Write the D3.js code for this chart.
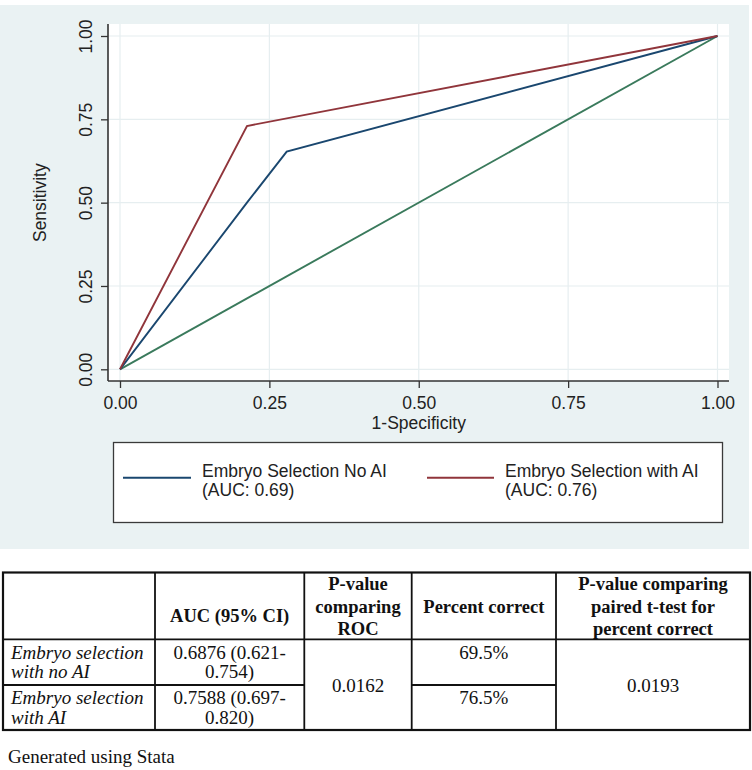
<!DOCTYPE html>
<html>
<head>
<meta charset="utf-8">
<script src="https://cdn.jsdelivr.net/npm/d3@7"></script>
<style>
  html, body { margin: 0; padding: 0; background: #ffffff; }
  svg { display: block; }
</style>
</head>
<body>
<script>
// ---------------- DATA ----------------
const seriesNames = ["Embryo Selection No AI", "Embryo Selection with AI"];
const seriesAUC = ["(AUC: 0.69)", "(AUC: 0.76)"];
const fprNoAI = [0, 0.2125, 0.279, 1];
const sensNoAI = [0, 0.500, 0.653, 1];
const fprAI = [0, 0.2125, 1];
const sensAI = [0, 0.730, 1];
const fprRef = [0, 1];
const sensRef = [0, 1];
const tickValues = [0, 0.25, 0.5, 0.75, 1];
const xTitle = "1-Specificity";
const yTitle = "Sensitivity";

const tableHeaders = [
  [""],
  ["AUC (95% CI)"],
  ["P-value", "comparing", "ROC"],
  ["Percent correct"],
  ["P-value comparing", "paired t-test for", "percent correct"]
];
const rowLabels = [["Embryo selection", "with no AI"], ["Embryo selection", "with AI"]];
const aucCI = [["0.6876 (0.621-", "0.754)"], ["0.7588 (0.697-", "0.820)"]];
const pValueROC = "0.0162";
const percentCorrect = ["69.5%", "76.5%"];
const pValuePercent = "0.0193";
const footnote = "Generated using Stata";

// ---------------- STYLE ----------------
const W = 752, H = 770;
const colNoAI = "#1a476f", colAI = "#90353b", colRef = "#3a7a5c";
const bgPanel = "#eaf2f3";
const sans = "'Liberation Sans', Arial, Helvetica, sans-serif";
const serif = "'Liberation Serif', 'Times New Roman', serif";

const svg = d3.select("body").append("svg").attr("width", W).attr("height", H);
svg.append("rect").attr("width", W).attr("height", H).attr("fill", "#fff");

// chart panel background
svg.append("rect").attr("x", 0).attr("y", 5).attr("width", 749).attr("height", 544).attr("fill", bgPanel);

// plot region
const plot = { left: 108, right: 729, top: 24, bottom: 381 };
svg.append("rect").attr("x", plot.left).attr("y", plot.top)
  .attr("width", plot.right - plot.left).attr("height", plot.bottom - plot.top).attr("fill", "#fff");

const x = d3.scaleLinear().domain([0, 1]).range([120, 717.5]);
const y = d3.scaleLinear().domain([0, 1]).range([369.3, 36]);

// gridlines
const grid = svg.append("g").attr("stroke", "#e6eef0").attr("stroke-width", 1.2);
tickValues.forEach(t => {
  grid.append("line").attr("x1", x(t)).attr("x2", x(t)).attr("y1", plot.top).attr("y2", plot.bottom);
  grid.append("line").attr("x1", plot.left).attr("x2", plot.right).attr("y1", y(t)).attr("y2", y(t));
});

// axes
const fmt = d3.format(".2f");
const yAxis = svg.append("g").attr("transform", `translate(${plot.left},0)`)
  .call(d3.axisLeft(y).tickValues(tickValues).tickFormat(fmt).tickSize(7).tickSizeOuter(0));
yAxis.select(".domain").attr("d", `M0,${plot.top}V${plot.bottom}`).attr("stroke", "#333").attr("stroke-width", 1.6);
yAxis.selectAll(".tick line").attr("stroke", "#333").attr("stroke-width", 1.3);
yAxis.selectAll(".tick text")
  .attr("transform", "rotate(-90)").attr("x", 0).attr("y", -16.5).attr("dy", 0)
  .attr("text-anchor", "middle").attr("font-family", sans).attr("font-size", 17.5).attr("fill", "#222");

const xAxis = svg.append("g").attr("transform", `translate(0,${plot.bottom})`)
  .call(d3.axisBottom(x).tickValues(tickValues).tickFormat(fmt).tickSize(7).tickSizeOuter(0));
xAxis.select(".domain").attr("d", `M${plot.left},0H${plot.right}`).attr("stroke", "#333").attr("stroke-width", 1.6);
xAxis.selectAll(".tick line").attr("stroke", "#333").attr("stroke-width", 1.3);
xAxis.selectAll(".tick text")
  .attr("y", 27.5).attr("dy", 0)
  .attr("font-family", sans).attr("font-size", 17.5).attr("fill", "#222");

// axis titles
svg.append("text").attr("transform", `translate(45.5,${(y(0) + y(1)) / 2}) rotate(-90)`)
  .attr("text-anchor", "middle").attr("font-family", sans).attr("font-size", 17.5).attr("fill", "#222").text(yTitle);
svg.append("text").attr("x", (x(0) + x(1)) / 2).attr("y", 428.5)
  .attr("text-anchor", "middle").attr("font-family", sans).attr("font-size", 17.5).attr("fill", "#222").text(xTitle);

// lines
const line = d3.line().x(d => x(d[0])).y(d => y(d[1]));
const series = [
  { fx: fprRef, sy: sensRef, color: colRef },
  { fx: fprNoAI, sy: sensNoAI, color: colNoAI },
  { fx: fprAI, sy: sensAI, color: colAI }
];
series.forEach(s => {
  svg.append("path").datum(d3.zip(s.fx, s.sy)).attr("d", line)
    .attr("fill", "none").attr("stroke", s.color).attr("stroke-width", 1.9).attr("stroke-linejoin", "miter");
});

// legend
svg.append("rect").attr("x", 113.5).attr("y", 442.5).attr("width", 609).attr("height", 80)
  .attr("fill", "#fff").attr("stroke", "#3a3a3a").attr("stroke-width", 1.3);
const legendItems = [
  { lx1: 123, lx2: 191, tx: 202, color: colNoAI },
  { lx1: 427, lx2: 494, tx: 505, color: colAI }
];
legendItems.forEach((it, i) => {
  svg.append("line").attr("x1", it.lx1).attr("x2", it.lx2).attr("y1", 477.7).attr("y2", 477.7)
    .attr("stroke", it.color).attr("stroke-width", 2);
  const t = svg.append("text").attr("font-family", sans).attr("font-size", 17.5).attr("fill", "#222");
  t.append("tspan").attr("x", it.tx).attr("y", 476.5).text(seriesNames[i]);
  t.append("tspan").attr("x", it.tx).attr("y", 496).text(seriesAUC[i]);
});

// ---------------- TABLE ----------------
const cols = [3, 155, 304.3, 411.7, 556, 750];
const rows = [572.5, 639.3, 685, 730];
const tg = svg.append("g").attr("stroke", "#111").attr("stroke-width", 1.8);
// outer border
tg.append("rect").attr("x", cols[0]).attr("y", rows[0]).attr("width", cols[5] - cols[0])
  .attr("height", rows[3] - rows[0]).attr("fill", "none").attr("stroke-width", 2.2);
// vertical lines
cols.slice(1, 5).forEach(c => tg.append("line").attr("x1", c).attr("x2", c).attr("y1", rows[0]).attr("y2", rows[3]));
// header bottom
tg.append("line").attr("x1", cols[0]).attr("x2", cols[5]).attr("y1", rows[1]).attr("y2", rows[1]);
// row separator (not across spanned cells)
tg.append("line").attr("x1", cols[0]).attr("x2", cols[2]).attr("y1", rows[2]).attr("y2", rows[2]);
tg.append("line").attr("x1", cols[3]).attr("x2", cols[4]).attr("y1", rows[2]).attr("y2", rows[2]);

const cx = i => (cols[i] + cols[i + 1]) / 2;
function txt(xp, yp, s, opts = {}) {
  svg.append("text").attr("x", xp).attr("y", yp).text(s)
    .attr("font-family", serif).attr("font-size", opts.size || 19)
    .attr("font-weight", opts.bold ? "bold" : "normal")
    .attr("font-style", opts.italic ? "italic" : "normal")
    .attr("text-anchor", opts.anchor || "middle").attr("fill", "#111");
}
// headers
const headerBaselines = {
  1: [622],
  2: [590, 612.5, 635],
  3: [613],
  4: [590, 612.5, 635]
};
for (let i = 1; i < 5; i++) {
  tableHeaders[i].forEach((s, k) => txt(cx(i), headerBaselines[i][k], s, { bold: true, size: 18.5 }));
}
// body
const rowBase = [[658.5, 677.7], [704.3, 724]];
rowLabels.forEach((lines, r) => lines.forEach((s, k) => txt(11, rowBase[r][k], s, { italic: true, anchor: "start" })));
aucCI.forEach((lines, r) => lines.forEach((s, k) => txt(cx(1), rowBase[r][k], s)));
txt(cx(2), 692, pValueROC);
percentCorrect.forEach((s, r) => txt(cx(3), [659, 704][r], s));
txt(cx(4), 692, pValuePercent);

// footnote
txt(8, 763, footnote, { anchor: "start" });
</script>
</body>
</html>
